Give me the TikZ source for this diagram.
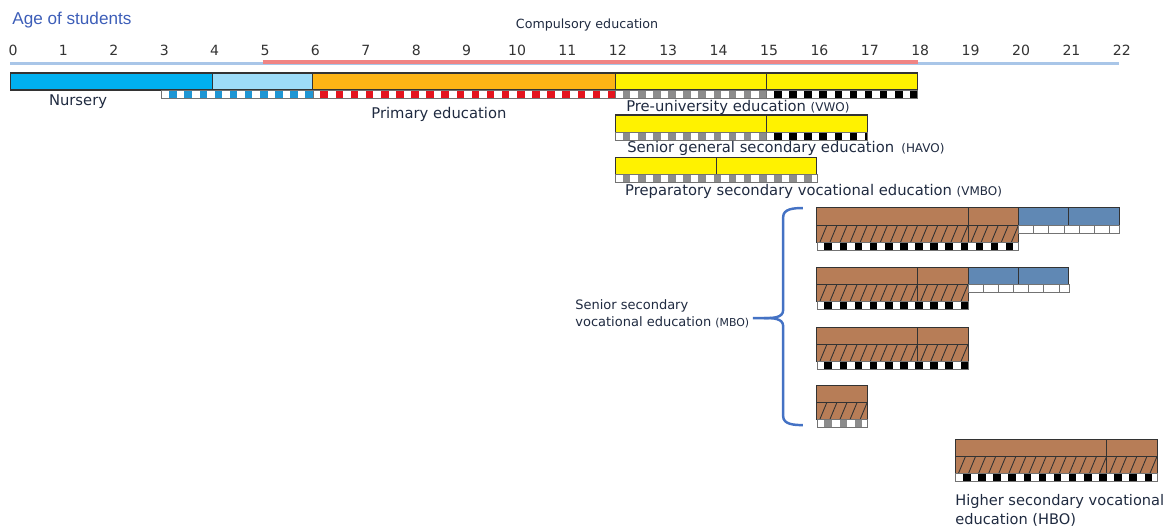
\documentclass[tikz,border=0pt]{standalone}
\usepackage{fontspec}
\setmainfont{DejaVu Sans}
\newfontfamily\arialfont{Liberation Sans}
\usepackage{tikz}
\usetikzlibrary{calc, positioning}

\definecolor{titleblue}{HTML}{3D5EB8}
\definecolor{textdark}{HTML}{1F2A40}
\definecolor{axisblue}{HTML}{A9C6E8}
\definecolor{compred}{HTML}{F08484}
\definecolor{nurseryblue}{HTML}{00B0F0}
\definecolor{nurserylight}{HTML}{9DDCF8}
\definecolor{primaryorange}{HTML}{FDB415}
\definecolor{secyellow}{HTML}{FFF200}
\definecolor{mbobrown}{HTML}{B77D57}
\definecolor{mboblue}{HTML}{6088B4}
\definecolor{bracketblue}{HTML}{4472C4}
\definecolor{chkblue}{HTML}{1E96D4}
\definecolor{chkred}{HTML}{E4141E}
\definecolor{chkgrey}{HTML}{8C8C8C}

\newcommand{\abbr}[1]{{\fontsize{6.8}{8}\selectfont #1}}

% checked strip: colour, from age, to age, top
\newcommand{\chkstrip}[4]{%
  \fill[white] (#2,#4) rectangle (#3,#4+8);
  \begin{scope}
    \clip (#2,#4) rectangle (#3,#4+8);
    \foreach \k in {0,...,20}
      \fill[#1] (#2+0.3*\k+0.15,#4+0.5) rectangle (#2+0.3*\k+0.3,#4+7.5);
  \end{scope}
  \draw[stripedge] (#2,#4) rectangle (#3,#4+8);}

% hatched band: from age, to age, top
\newcommand{\hatchband}[3]{%
  \fill[mbobrown] (#1,#3) rectangle (#2,#3+17);
  \begin{scope}
    \clip (#1,#3) rectangle (#2,#3+17);
    \foreach \k in {0,...,22}
      \draw[hatchline] (#1+0.2*\k-0.14,#3+17) -- (#1+0.2*\k,#3);
  \end{scope}
  \draw[baredge] (#1,#3) rectangle (#2,#3+17);}

% open grid strip: from age, to age, top
\newcommand{\gridstrip}[3]{%
  \draw[stripedge, fill=white] (#1,#3) rectangle (#2,#3+8);
  \foreach \k in {1,...,6}
    \draw[stripedge] (#1+0.3*\k,#3) -- ++(0,8);}

\begin{document}
\begin{tikzpicture}[x=1.008cm, y=-0.02cm,
  baredge/.style={draw=black!80, line width=0.6pt},
  stripedge/.style={draw=black!55, line width=0.4pt},
  hatchline/.style={draw=black!80, line width=0.5pt},
  lbl/.style={text=textdark, inner sep=0pt, font=\fontsize{8.4}{10}\selectfont},
  agenum/.style={text=black!80, inner sep=0pt, font=\fontsize{8}{9}\selectfont}]

	\useasboundingbox (-0.2083,0) rectangle (22.946,527);

	% axis
	\node[anchor=base west, inner sep=0pt, text=titleblue, font=\arialfont\fontsize{9.75}{11}\selectfont] (title) at (0.03,24.5) {Age of students};
	\node[lbl, anchor=base, font=\fontsize{7.2}{9}\selectfont] (compulsory) at (11.44,28) {Compulsory education};
	\foreach \a in {0,...,22}
		\node[agenum] (age\a) at (\a+0.05,50) {\a};
	\draw[axisblue, line width=1.5pt] (0,63.8) -- (22,63.8);
	\draw[compred, line width=2.5pt] (5,61.7) -- (18,61.7);

	% nursery, primary, VWO
	\draw[baredge, fill=nurseryblue] (0,73) rectangle (4,90);
	\draw[baredge, fill=nurserylight] (4,73) rectangle (6,90);
	\draw[baredge, fill=primaryorange] (6,73) rectangle (12,90);
	\draw[baredge, fill=secyellow] (12,73) rectangle (15,90);
	\draw[baredge, fill=secyellow] (15,73) rectangle (18,90);
	\chkstrip{chkblue}{3}{6}{90}
	\chkstrip{chkred}{6}{12}{90}
	\chkstrip{chkgrey}{12}{15}{90}
	\chkstrip{black}{15}{18}{90}
	\node[lbl, anchor=base] (nursery) at (1.34,105) {Nursery};
	\node[lbl, anchor=base] (primary) at (8.5,118) {Primary education};
	\node[lbl, anchor=base west] (vwo) at (12.21,111) {Pre-university education \abbr{(VWO)}};

	% HAVO
	\draw[baredge, fill=secyellow] (12,115) rectangle (15,132);
	\draw[baredge, fill=secyellow] (15,115) rectangle (17,132);
	\chkstrip{chkgrey}{12}{15}{132}
	\chkstrip{black}{15}{17}{132}
	\node[lbl, anchor=base west] (havo) at (12.23,152) {Senior general secondary education \,\abbr{(HAVO)}};

	% VMBO
	\draw[baredge, fill=secyellow] (12,157) rectangle (14,174);
	\draw[baredge, fill=secyellow] (14,157) rectangle (16,174);
	\chkstrip{chkgrey}{12}{16}{174}
	\node[lbl, anchor=base west] (vmbo) at (12.19,195) {Preparatory secondary vocational education \abbr{(VMBO)}};

	% MBO
	\draw[baredge, fill=mbobrown] (16,207) rectangle (19,225);
	\draw[baredge, fill=mbobrown] (19,207) rectangle (20,225);
	\draw[baredge, fill=mboblue] (20,207) rectangle (21,225);
	\draw[baredge, fill=mboblue] (21,207) rectangle (22,225);
	\hatchband{16}{19}{225}
	\hatchband{19}{20}{225}
	\gridstrip{20}{22}{225}
	\chkstrip{black}{16}{20}{242}

	\draw[baredge, fill=mbobrown] (16,267) rectangle (18,284);
	\draw[baredge, fill=mbobrown] (18,267) rectangle (19,284);
	\draw[baredge, fill=mboblue] (19,267) rectangle (20,284);
	\draw[baredge, fill=mboblue] (20,267) rectangle (21,284);
	\hatchband{16}{18}{284}
	\hatchband{18}{19}{284}
	\gridstrip{19}{21}{284}
	\chkstrip{black}{16}{19}{301}

	\draw[baredge, fill=mbobrown] (16,327) rectangle (18,344);
	\draw[baredge, fill=mbobrown] (18,327) rectangle (19,344);
	\hatchband{16}{18}{344}
	\hatchband{18}{19}{344}
	\chkstrip{black}{16}{19}{361}

	\draw[baredge, fill=mbobrown] (16,385) rectangle (17,402);
	\hatchband{16}{17}{402}
	\chkstrip{chkgrey}{16}{17}{419}

	\node[lbl, anchor=base west, align=left, font=\fontsize{7.4}{9.6}\selectfont] (mbo) at (11.2,326) {Senior secondary\\vocational education {\fontsize{6.2}{8}\selectfont(MBO)}};
	\draw[bracketblue, line width=1.4pt]
		(15.72,208) to[out=180, in=90] (15.33,217) -- (15.33,310)
		to[out=-90, in=0] (14.95,318) -- (14.73,318);
	\draw[bracketblue, line width=1.4pt]
		(14.95,318) to[out=0, in=90] (15.33,326) -- (15.33,416)
		to[out=-90, in=180] (15.72,425);

	% HBO
	\draw[baredge, fill=mbobrown] (18.75,439) rectangle (21.75,456);
	\draw[baredge, fill=mbobrown] (21.75,439) rectangle (22.75,456);
	\hatchband{18.75}{21.75}{456}
	\hatchband{21.75}{22.75}{456}
	\chkstrip{black}{18.75}{22.75}{473}
	\node[lbl, anchor=base west, align=left, font=\fontsize{8.3}{10.5}\selectfont] (hbo) at (18.74,524) {Higher secondary vocational\\education (HBO)};

\end{tikzpicture}
\end{document}
